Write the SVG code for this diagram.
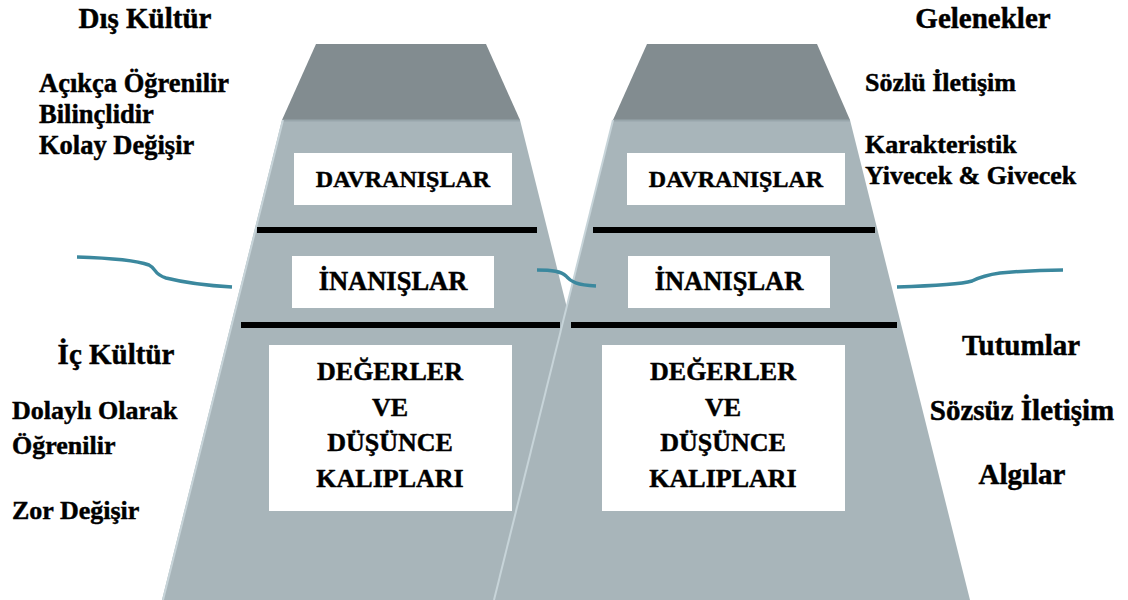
<svg xmlns="http://www.w3.org/2000/svg" width="1128" height="600" viewBox="0 0 1128 600">
  <style>
    .body { fill: #a8b5ba; }
    .top { fill: #828c90; }
    .rim { stroke: #c7d4d9; stroke-width: 2; fill: none; }
    .seam { stroke: #98a6ab; stroke-width: 2; fill: none; }
    .box { fill: #ffffff; }
    .bar { fill: #000000; }
    .t { font-family: 'Liberation Serif', 'Times New Roman', serif; font-weight: 700; fill: #000; stroke: #000; stroke-width: 0.45; }
    .c { text-anchor: middle; }
    .wave { fill: none; stroke: #3b889e; stroke-width: 3.5; stroke-linecap: butt; }
  </style>

  <rect width="1128" height="600" fill="#ffffff"/>

  <!-- left iceberg -->
  <g id="iceberg-left">
    <polygon class="body" points="282,120 520,120 640,600 162,600"/>
    <polygon class="top" points="316,44 486,44 520,120 282,120"/>
    <line class="seam" x1="283" y1="120.5" x2="520" y2="120.5"/>
    <line class="rim" x1="283" y1="120" x2="163" y2="600"/>
  </g>
  <g id="left-davranislar">
    <rect class="box" x="294" y="153" width="218" height="52"/>
    <text class="t c" x="403" y="187" font-size="24">DAVRANIŞLAR</text>
  </g>
  <rect id="left-bar-1" class="bar" x="257" y="227" width="280" height="6"/>
  <g id="left-inanislar">
    <rect class="box" x="292" y="256" width="202" height="52"/>
    <text class="t c" x="393" y="290" font-size="26.5">İNANIŞLAR</text>
  </g>
  <rect id="left-bar-2" class="bar" x="241" y="322" width="319" height="6"/>
  <g id="left-degerler">
    <rect class="box" x="269" y="345" width="243" height="166"/>
    <text class="t c" x="390" y="380" font-size="26">DEĞERLER</text>
    <text class="t c" x="390" y="416" font-size="26">VE</text>
    <text class="t c" x="390" y="451" font-size="26">DÜŞÜNCE</text>
    <text class="t c" x="390" y="487" font-size="26">KALIPLARI</text>
  </g>

  <!-- right iceberg -->
  <g id="iceberg-right">
    <polygon class="body" points="613,120 850,120 970,600 493,600"/>
    <polygon class="top" points="647,44 817,44 850,120 613,120"/>
    <line class="seam" x1="614" y1="120.5" x2="850" y2="120.5"/>
    <line class="rim" x1="613" y1="120" x2="494" y2="600"/>
  </g>
  <g id="right-davranislar">
    <rect class="box" x="627" y="153" width="218" height="52"/>
    <text class="t c" x="736" y="187" font-size="24">DAVRANIŞLAR</text>
  </g>
  <rect id="right-bar-1" class="bar" x="593" y="227" width="282" height="6"/>
  <g id="right-inanislar">
    <rect class="box" x="628" y="256" width="202" height="52"/>
    <text class="t c" x="729" y="290" font-size="26.5">İNANIŞLAR</text>
  </g>
  <rect id="right-bar-2" class="bar" x="571" y="322" width="326" height="6"/>
  <g id="right-degerler">
    <rect class="box" x="602" y="345" width="243" height="166"/>
    <text class="t c" x="723" y="380" font-size="26">DEĞERLER</text>
    <text class="t c" x="723" y="416" font-size="26">VE</text>
    <text class="t c" x="723" y="451" font-size="26">DÜŞÜNCE</text>
    <text class="t c" x="723" y="487" font-size="26">KALIPLARI</text>
  </g>

  <!-- waterline curves -->
  <g id="connectors">
    <path class="wave" d="M77,257 C110,258 138,261 149,265 C157,269 153,274 166,278 C190,284 214,286 232,287"/>
    <path class="wave" d="M537,270 C552,270 561,271 566,276 C571,282 577,285 596,286"/>
    <path class="wave" d="M897,287 C930,286 962,284 972,281 C980,277 986,275 1000,273 C1022,271 1045,270 1063,270"/>
  </g>

  <!-- side labels -->
  <g id="label-dis-kultur">
    <text class="t c" x="145" y="28" font-size="29">Dış Kültür</text>
    <text class="t" x="39" y="92" font-size="26.5">Açıkça Öğrenilir</text>
    <text class="t" x="39" y="123" font-size="26.5">Bilinçlidir</text>
    <text class="t" x="39" y="154" font-size="26.5">Kolay Değişir</text>
  </g>
  <g id="label-gelenekler">
    <text class="t c" x="983" y="28" font-size="29">Gelenekler</text>
    <text class="t" x="865" y="91" font-size="26">Sözlü İletişim</text>
    <text class="t" x="865" y="153" font-size="26">Karakteristik</text>
    <text class="t" x="865" y="184" font-size="26">Yivecek &amp; Givecek</text>
  </g>
  <g id="label-ic-kultur">
    <text class="t c" x="116" y="364" font-size="29">İç Kültür</text>
    <text class="t" x="12" y="419" font-size="26">Dolaylı Olarak</text>
    <text class="t" x="12" y="454" font-size="26">Öğrenilir</text>
    <text class="t" x="12" y="519" font-size="26">Zor Değişir</text>
  </g>
  <g id="label-tutumlar">
    <text class="t c" x="1021" y="355" font-size="29">Tutumlar</text>
    <text class="t c" x="1022" y="420" font-size="29">Sözsüz İletişim</text>
    <text class="t c" x="1022" y="484" font-size="29">Algılar</text>
  </g>
</svg>
